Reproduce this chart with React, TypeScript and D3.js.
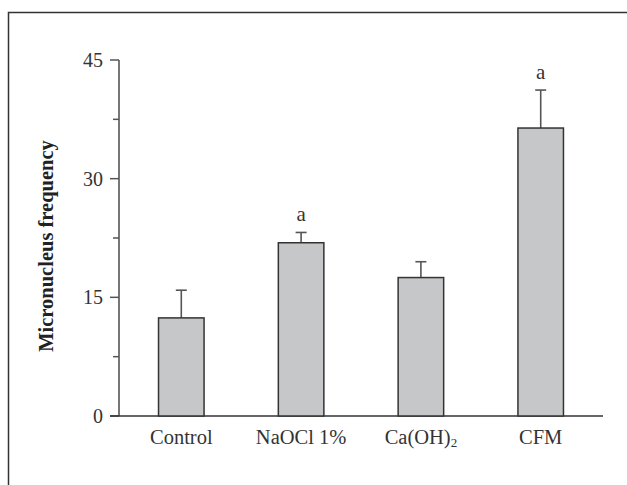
import React, { useEffect, useRef } from 'react';
import * as d3 from 'd3';

const categories = ['Control', 'NaOCl 1%', 'Ca(OH)2', 'CFM'];
const means = [12.4, 21.9, 17.5, 36.4];
const errors = [3.5, 1.3, 2.0, 4.8];
const letters = ['', 'a', '', 'a'];
const majorTicks = [0, 15, 30, 45];
const minorTicks = [7.5, 22.5, 37.5];

const width = 627;
const height = 485;
const font = '"Liberation Serif", "DejaVu Serif", serif';

export default function App() {
    const ref = useRef<SVGSVGElement>(null);

    useEffect(() => {
        const svg = d3.select(ref.current);
        svg.selectAll('*').remove();

        const data = categories.map((c, i) => ({
            cat: c,
            mean: means[i],
            err: errors[i],
            letter: letters[i]
        }));

        // frame around the figure (runs off the page right and bottom)
        svg.append('rect')
            .attr('x', 8.5).attr('y', 12.5)
            .attr('width', 700).attr('height', 600)
            .attr('fill', 'none')
            .attr('stroke', '#333')
            .attr('stroke-width', 1.5);

        const axisX = 119;
        const xScale = d3.scaleBand()
            .domain(categories)
            .range([axisX, 603])
            .paddingInner(0.62)
            .paddingOuter(0.33);

        const yScale = d3.scaleLinear()
            .domain([0, 45])
            .range([416, 60]);

        const g = svg.append('g');

        // y axis
        g.append('line')
            .attr('x1', axisX).attr('x2', axisX)
            .attr('y1', yScale(0)).attr('y2', yScale(45))
            .attr('stroke', '#555').attr('stroke-width', 1.6);

        g.selectAll('.major')
            .data(majorTicks)
            .join('line')
            .attr('x1', axisX - 9).attr('x2', axisX)
            .attr('y1', (d) => yScale(d)).attr('y2', (d) => yScale(d))
            .attr('stroke', '#555').attr('stroke-width', 1.5);

        g.selectAll('.minor')
            .data(minorTicks)
            .join('line')
            .attr('x1', axisX - 6).attr('x2', axisX)
            .attr('y1', (d) => yScale(d)).attr('y2', (d) => yScale(d))
            .attr('stroke', '#555').attr('stroke-width', 1.5);

        g.selectAll('.ylab')
            .data(majorTicks)
            .join('text')
            .attr('x', axisX - 16)
            .attr('y', (d) => yScale(d))
            .attr('dy', '0.35em')
            .attr('text-anchor', 'end')
            .attr('font-family', font)
            .attr('font-size', 20)
            .attr('fill', '#333')
            .text((d) => d);

        // x axis baseline
        g.append('line')
            .attr('x1', axisX - 9).attr('x2', 603)
            .attr('y1', yScale(0)).attr('y2', yScale(0))
            .attr('stroke', '#333').attr('stroke-width', 1.6);

        // error bars
        const cap = 5.5;
        data.forEach((d) => {
            const cx = xScale(d.cat)! + xScale.bandwidth() / 2;
            const top = yScale(d.mean + d.err);
            g.append('line')
                .attr('x1', cx).attr('x2', cx)
                .attr('y1', yScale(d.mean)).attr('y2', top)
                .attr('stroke', '#555').attr('stroke-width', 1.6);
            g.append('line')
                .attr('x1', cx - cap).attr('x2', cx + cap)
                .attr('y1', top).attr('y2', top)
                .attr('stroke', '#555').attr('stroke-width', 1.6);
            if (d.letter) {
                g.append('text')
                    .attr('x', cx)
                    .attr('y', top - 11)
                    .attr('text-anchor', 'middle')
                    .attr('font-family', font)
                    .attr('font-size', 21)
                    .attr('fill', '#333')
                    .text(d.letter);
            }
        });

        // bars
        g.selectAll('.bar')
            .data(data)
            .join('rect')
            .attr('x', (d) => xScale(d.cat)!)
            .attr('y', (d) => yScale(d.mean))
            .attr('width', xScale.bandwidth())
            .attr('height', (d) => yScale(0) - yScale(d.mean))
            .attr('fill', '#c6c7c8')
            .attr('stroke', '#333')
            .attr('stroke-width', 1.5);

        // category labels
        const xl = g.selectAll('.xlab')
            .data(data)
            .join('text')
            .attr('x', (d) => xScale(d.cat)! + xScale.bandwidth() / 2)
            .attr('y', 444)
            .attr('text-anchor', 'middle')
            .attr('font-family', font)
            .attr('font-size', 20.5)
            .attr('fill', '#333');
        xl.each(function (d) {
            const t = d3.select(this);
            if (d.cat === 'Ca(OH)2') {
                t.append('tspan').text('Ca(OH)');
                t.append('tspan').attr('font-size', 13).attr('dy', 3).text('2');
            } else {
                t.text(d.cat);
            }
        });

        // y axis title
        svg.append('text')
            .attr('transform', `translate(53, 246) rotate(-90)`)
            .attr('text-anchor', 'middle')
            .attr('font-family', font)
            .attr('font-size', 20.5)
            .attr('font-weight', 'bold')
            .attr('fill', '#222')
            .text('Micronucleus frequency');
    }, []);

    return (
        <svg ref={ref} width={width} height={height}
            style={{ position: 'absolute', left: 0, top: 0, background: '#fff' }} />
    );
}
